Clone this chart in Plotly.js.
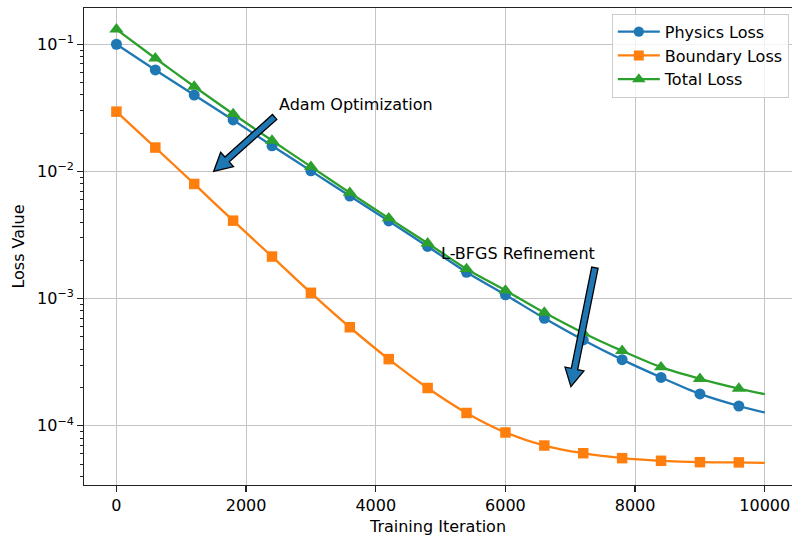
<!DOCTYPE html>
<html>
<head>
<meta charset="utf-8">
<script src="https://cdn.plot.ly/plotly-3.0.1.min.js"></script>
<style>html,body{margin:0;padding:0;background:#fff;}#chart{width:792px;height:537px;}</style>
</head>
<body>
<div id="chart"></div>
<script>
// Data
var iterations = [0, 600, 1200, 1800, 2400, 3000, 3600, 4200, 4800, 5400, 6000, 6600, 7200, 7800, 8400, 9000, 9600, 10000];
var physicsLoss = [0.100, 0.0628, 0.0399, 0.0254, 0.0159, 0.0101, 0.0064, 0.00408, 0.00257, 0.00161, 0.00107, 0.00070, 0.000473, 0.000331, 0.00024, 0.000178, 0.000143, 0.000127];
var boundaryLoss = [0.0295, 0.0154, 0.00797, 0.0041, 0.00214, 0.00111, 0.000595, 0.000334, 0.000198, 0.000126, 0.0000885, 0.0000699, 0.0000608, 0.0000556, 0.000053, 0.0000517, 0.0000515, 0.000051];
var totalLoss = [0.131, 0.0776, 0.0465, 0.0283, 0.0175, 0.0109, 0.0068, 0.00429, 0.00272, 0.00171, 0.00116, 0.000776, 0.000537, 0.000388, 0.000289, 0.000234, 0.000196, 0.000177];
var markerShown = [1,1,1,1,1,1,1,1,1,1,1,1,1,1,1,1,1,0];

var seriesNames = ["Physics Loss", "Boundary Loss", "Total Loss"];
var seriesColors = ["#1f77b4", "#ff7f0e", "#2ca02c"];
var seriesSymbols = ["circle", "square", "triangle-up"];
var seriesSizes = [11, 10.5, 12.5];

var yTickVals = [1e-4, 1e-3, 1e-2, 1e-1];
var yTickText = ["10<sup>\u22124</sup>", "10<sup>\u22123</sup>", "10<sup>\u22122</sup>", "10<sup>\u22121</sup>"];
var xTickVals = [0, 2000, 4000, 6000, 8000, 10000];

// Annotations: label text, label position, arrow tip, arrow tail
var annTexts = ["Adam Optimization", "L-BFGS Refinement"];
var annTextX = [2500, 5000];
var annTextY = [0.03, 0.002];
var arrowTipX = [1500, 7010];
var arrowTipY = [0.01, 0.000203];
var arrowTailX = [2440, 7380];
var arrowTailY = [0.0268, 0.00175];

var minorVals = [];
[1e-5, 1e-4, 1e-3, 1e-2, 1e-1].forEach(function (d) {
  for (var k = 2; k <= 9; k++) minorVals.push(k * d);
});

var allY = [physicsLoss, boundaryLoss, totalLoss];
var traces = allY.map(function (ys, i) {
  return {
    x: iterations, y: ys, name: seriesNames[i], type: "scatter", mode: "lines+markers",
    line: {color: seriesColors[i], width: 2.3, shape: "spline", smoothing: 0.8},
    marker: {color: seriesColors[i], symbol: seriesSymbols[i], opacity: 1,
             size: markerShown.map(function (m) { return m * seriesSizes[i]; }),
             line: {width: 0}}
  };
});

var font = {family: "DejaVu Sans, sans-serif", size: 16, color: "#000"};

var annotations = annTexts.map(function (t, i) {
  return {
    text: t, x: annTextX[i], y: Math.log10(annTextY[i]), xref: "x", yref: "y",
    xanchor: "left", yanchor: "bottom", showarrow: false, font: font, yshift: -5, xshift: -2
  };
});

var layout = {
  width: 792, height: 537,
  margin: {l: 84, r: 0, t: 8, b: 52},
  paper_bgcolor: "#fff", plot_bgcolor: "#fff",
  font: font,
  showlegend: true,
  legend: {x: 0.9955, xanchor: "right", y: 0.988, yanchor: "top",
           bgcolor: "rgba(255,255,255,0.8)", bordercolor: "#cccccc", borderwidth: 1,
           font: font, tracegroupgap: 0, itemwidth: 42},
  xaxis: {
    range: [-500, 10420], tickvals: xTickVals, ticktext: xTickVals.map(String),
    showgrid: true, gridcolor: "#c4c4c4", gridwidth: 1, zeroline: false,
    showline: true, linecolor: "#222", linewidth: 1.3, mirror: true,
    ticks: "outside", ticklen: 5.6, tickwidth: 1.3, tickcolor: "#222",
    tickfont: font,
    title: {text: "Training Iteration", font: font, standoff: 6}
  },
  yaxis: {
    type: "log", range: [-4.466, -0.715], tickmode: "array", tickvals: yTickVals, ticktext: yTickText,
    showgrid: true, gridcolor: "#c4c4c4", gridwidth: 1, zeroline: false,
    showline: true, linecolor: "#222", linewidth: 1.3, mirror: false,
    ticks: "outside", ticklen: 5.6, tickwidth: 1.3, tickcolor: "#222",
    tickfont: font,
    minor: {tickmode: "array", tickvals: minorVals, ticks: "outside", ticklen: 3.2, tickwidth: 1, tickcolor: "#222", showgrid: false},
    title: {text: "Loss Value", font: font, standoff: 8}
  },
  annotations: annotations
};

var gd = document.getElementById("chart");
Plotly.newPlot(gd, traces, layout, {displayModeBar: false, staticPlot: true}).then(function () {
  var xa = gd._fullLayout.xaxis, ya = gd._fullLayout.yaxis;
  var sz = gd._fullLayout._size;
  var W = sz.w, H = sz.h;
  var shaftW = 6.5, headW = 19.3, headL = 18;
  var shapes = [];
  function toPaper(px, py) { return (px / W).toFixed(5) + "," + (1 - py / H).toFixed(5); }
  for (var i = 0; i < arrowTipX.length; i++) {
    var tx = xa.c2p(arrowTipX[i]), ty = ya.c2p(arrowTipY[i]);
    var sx = xa.c2p(arrowTailX[i]), sy = ya.c2p(arrowTailY[i]);
    var dx = sx - tx, dy = sy - ty;
    var L = Math.sqrt(dx * dx + dy * dy);
    var ux = dx / L, uy = dy / L, px = -uy, py = ux;
    var pts = [[0, 0], [headL, headW / 2], [headL, shaftW / 2], [L, shaftW / 2],
               [L, -shaftW / 2], [headL, -shaftW / 2], [headL, -headW / 2]];
    var path = pts.map(function (p, j) {
      var X = tx + p[0] * ux + p[1] * px, Y = ty + p[0] * uy + p[1] * py;
      return (j === 0 ? "M" : "L") + toPaper(X, Y);
    }).join(" ") + " Z";
    shapes.push({
      type: "path", xref: "paper", yref: "paper", path: path,
      fillcolor: "#1f77b4", line: {color: "#000", width: 1.3}, layer: "above"
    });
  }
  return Plotly.relayout(gd, {shapes: shapes});
});
</script>
</body>
</html>
